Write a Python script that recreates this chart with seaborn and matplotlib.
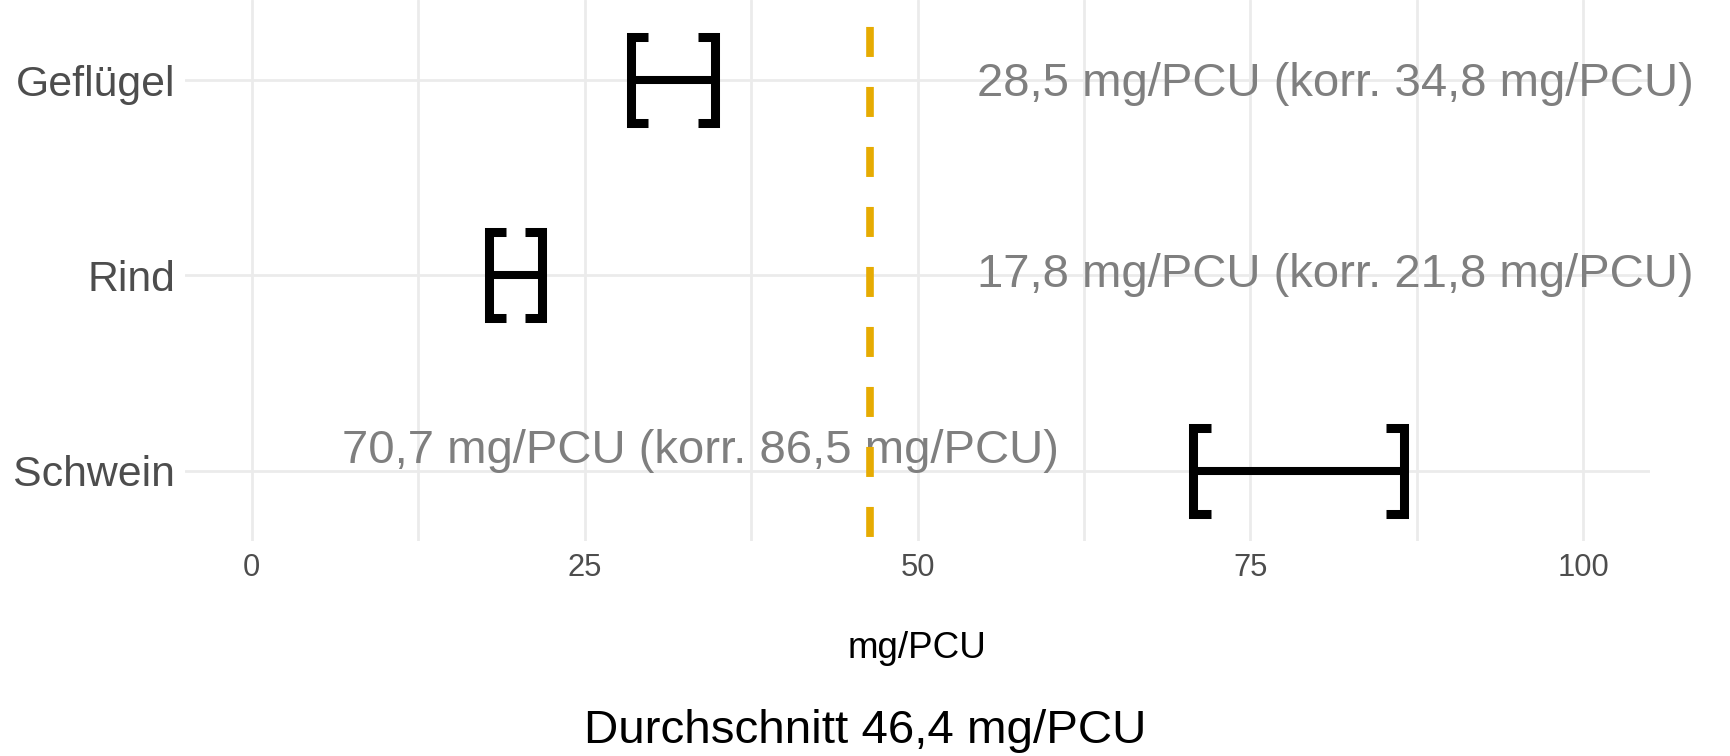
import matplotlib
matplotlib.use("Agg")
import matplotlib.pyplot as plt
from matplotlib.ticker import MultipleLocator
import numpy as np
import pandas as pd
import seaborn as sns

# Data: range per animal species (mg/PCU) and the overall average
tierarten = ["Geflügel", "Rind", "Schwein"]
wert = [28.5, 17.8, 70.7]
korrigiert = [34.8, 21.8, 86.5]
durchschnitt = 46.4
x_ticks = [0, 25, 50, 75, 100]

def fmt(v):
    return f"{v:.1f}".replace(".", ",")

labels = [f"{fmt(a)} mg/PCU (korr. {fmt(b)} mg/PCU)" for a, b in zip(wert, korrigiert)]

sns.set_theme(style="whitegrid")
plt.rcParams["font.family"] = ["Liberation Sans", "DejaVu Sans"]
plt.rcParams["lines.scale_dashes"] = False

fig = plt.figure(figsize=(17.3, 7.56), dpi=100)
ax = fig.add_axes([185 / 1730, 215 / 756, 1465 / 1730, 541 / 756])
ax.set_facecolor("white")

pos = np.arange(len(tierarten))
df = pd.DataFrame({
    "Tierart": np.repeat(tierarten, 2),
    "pos": np.repeat(pos, 2),
    "value": np.ravel(np.column_stack([wert, korrigiert])),
})

# horizontal span between raw and corrected value
sns.lineplot(data=df, x="value", y="pos", units="Tierart", estimator=None,
             sort=False, color="black", linewidth=5.8, ax=ax, legend=False,
             solid_capstyle="butt", zorder=3)

# bracket-shaped end caps
h = 0.22
t = 1.3
for p, lo, hi in zip(pos, wert, korrigiert):
    ax.plot([lo + t, lo, lo, lo + t], [p - h, p - h, p + h, p + h],
            color="black", lw=6.5, solid_joinstyle="miter",
            solid_capstyle="butt", zorder=3)
    ax.plot([hi - t, hi, hi, hi - t], [p - h, p - h, p + h, p + h],
            color="black", lw=6.5, solid_joinstyle="miter",
            solid_capstyle="butt", zorder=3)

# average line
ax.axvline(durchschnitt, ymin=1, ymax=0, color="#E6AB02", lw=5.5,
           linestyle=(23.8, (21.6, 21.6)), zorder=2)

# value labels
label_x = [108.3, 108.3, 60.6]
label_dy = [0.02, 0.0, -0.1]
for p, lab, lx, dy in zip(pos, labels, label_x, label_dy):
    ax.text(lx, p + dy, lab, ha="right", va="center", fontsize=34.0,
            color="#7F7F7F", clip_on=False, zorder=1)

ax.set_xlim(-5, 105)
ax.set_ylim(2.36, -0.41)
ax.set_xticks(x_ticks)
ax.xaxis.set_minor_locator(MultipleLocator(12.5))
ax.set_yticks(pos)
ax.set_yticklabels(tierarten)
ax.grid(True, which="both", color="#EBEBEB", lw=2)
ax.set_axisbelow(True)
for s in ax.spines.values():
    s.set_visible(False)
ax.tick_params(axis="x", which="both", length=0, pad=9, labelsize=22.2, labelcolor="#4D4D4D")
ax.tick_params(axis="y", length=0, pad=7, labelsize=30.8, labelcolor="#4D4D4D")
ax.set_xlabel("mg/PCU", fontsize=26.5, color="black", labelpad=34)
ax.set_ylabel("")

fig.text(0.5, 1 - 731 / 756, f"Durchschnitt {fmt(durchschnitt)} mg/PCU",
         ha="center", va="center", fontsize=34.2, color="black")

fig.savefig("out.png", dpi=100, facecolor="white")
